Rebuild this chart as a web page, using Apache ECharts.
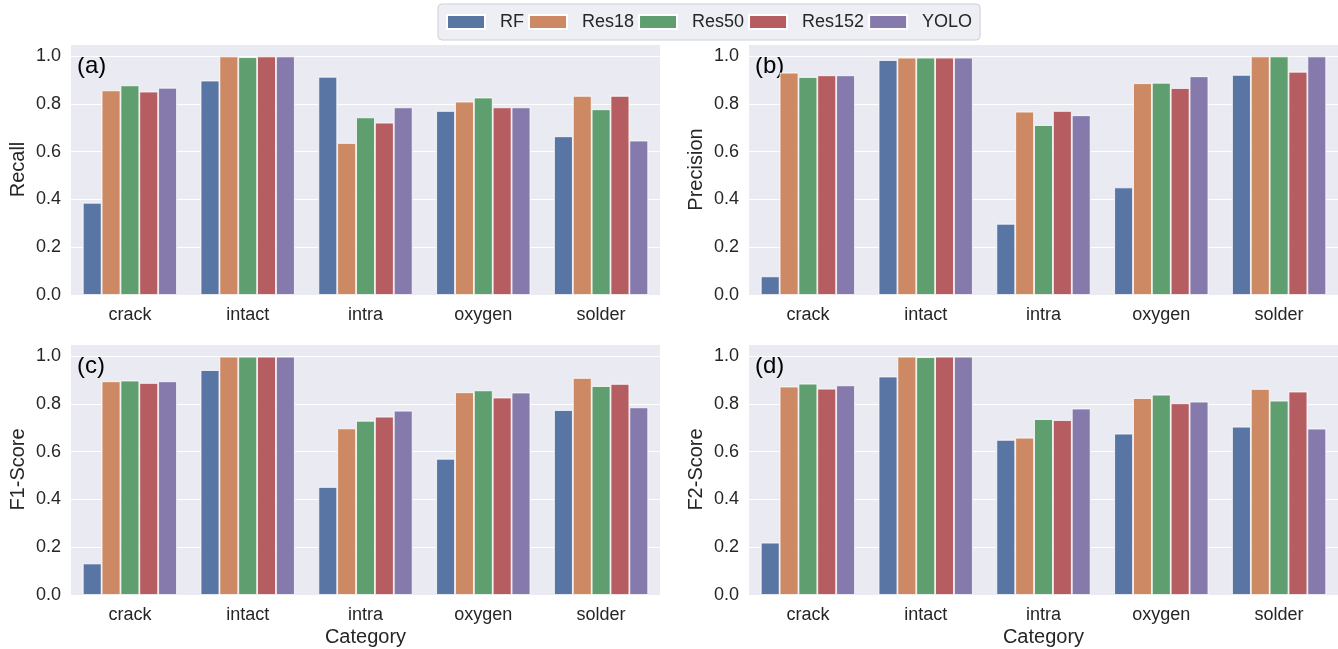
<!DOCTYPE html>
<html>
<head>
<meta charset="utf-8">
<script src="https://cdn.jsdelivr.net/npm/echarts@6/dist/echarts.min.js"></script>
<style>
html,body{margin:0;padding:0;background:#fff;}
#chart{width:1338px;height:649px;}
</style>
</head>
<body>
<div id="chart"></div>
<script>
const categories = ['crack', 'intact', 'intra', 'oxygen', 'solder'];
const models = ['RF', 'Res18', 'Res50', 'Res152', 'YOLO'];
const yTicks = [0, 0.2, 0.4, 0.6, 0.8, 1.0];

// Recall
const recallRF     = [0.386, 0.897, 0.913, 0.770, 0.664];
const recallRes18  = [0.856, 0.998, 0.636, 0.809, 0.833];
const recallRes50  = [0.877, 0.995, 0.743, 0.826, 0.777];
const recallRes152 = [0.851, 0.998, 0.721, 0.785, 0.833];
const recallYOLO   = [0.867, 0.998, 0.785, 0.785, 0.646];

// Precision
const precisionRF     = [0.078, 0.983, 0.298, 0.450, 0.921];
const precisionRes18  = [0.930, 0.993, 0.767, 0.886, 0.998];
const precisionRes50  = [0.912, 0.993, 0.711, 0.888, 0.998];
const precisionRes152 = [0.919, 0.993, 0.770, 0.866, 0.934];
const precisionYOLO   = [0.919, 0.993, 0.752, 0.915, 0.998];

// F1-Score
const f1RF     = [0.132, 0.941, 0.452, 0.570, 0.774];
const f1Res18  = [0.894, 0.997, 0.697, 0.848, 0.908];
const f1Res50  = [0.897, 0.997, 0.729, 0.856, 0.874];
const f1Res152 = [0.887, 0.997, 0.746, 0.826, 0.883];
const f1YOLO   = [0.894, 0.997, 0.771, 0.847, 0.785];

// F2-Score
const f2RF     = [0.219, 0.914, 0.649, 0.675, 0.704];
const f2Res18  = [0.872, 0.997, 0.658, 0.824, 0.862];
const f2Res50  = [0.884, 0.995, 0.736, 0.838, 0.813];
const f2Res152 = [0.863, 0.997, 0.732, 0.802, 0.851];
const f2YOLO   = [0.877, 0.997, 0.780, 0.809, 0.696];

const colors = ['#5875A4', '#CC8963', '#5F9E6E', '#B55D60', '#857AAB'];

const panels = [
  { label: '(a)', name: 'Recall',    data: [recallRF, recallRes18, recallRes50, recallRes152, recallYOLO], left: 71,  top: 44,  xname: '' },
  { label: '(b)', name: 'Precision', data: [precisionRF, precisionRes18, precisionRes50, precisionRes152, precisionYOLO], left: 749, top: 44,  xname: '' },
  { label: '(c)', name: 'F1-Score',  data: [f1RF, f1Res18, f1Res50, f1Res152, f1YOLO], left: 71,  top: 344, xname: 'Category' },
  { label: '(d)', name: 'F2-Score',  data: [f2RF, f2Res18, f2Res50, f2Res152, f2YOLO], left: 749, top: 344, xname: 'Category' }
];

const W = 589, H = 251;
const textColor = '#262626';
const font = '"Liberation Sans", Arial, sans-serif';

const grid = [], xAxis = [], yAxis = [], series = [], graphic = [];
panels.forEach((p, i) => {
  grid.push({ left: p.left, top: p.top, width: W, height: H, backgroundColor: '#EAEAF2', show: true, borderWidth: 0, containLabel: false });
  xAxis.push({
    type: 'category', gridIndex: i, data: categories,
    axisLine: { show: false }, axisTick: { show: false },
    axisLabel: { color: textColor, fontSize: 18, fontFamily: font, margin: 11 },
    name: p.xname, nameLocation: 'middle', nameGap: 32,
    nameTextStyle: { color: textColor, fontSize: 20, fontFamily: font }
  });
  yAxis.push({
    type: 'value', gridIndex: i, min: 0, max: 1.05, interval: 0.2,
    axisLine: { show: false }, axisTick: { show: false },
    splitLine: { lineStyle: { color: '#ffffff', width: 1.2 } },
    axisLabel: {
      color: textColor, fontSize: 18, fontFamily: font, margin: 10,
      formatter: v => yTicks.some(t => Math.abs(t - v) < 1e-6) ? v.toFixed(1) : ''
    },
    name: p.name, nameLocation: 'middle', nameGap: 43,
    nameTextStyle: { color: textColor, fontSize: 20, fontFamily: font }
  });
  p.data.forEach((arr, m) => {
    series.push({
      type: 'bar', name: models[m], xAxisIndex: i, yAxisIndex: i, data: arr,
      barGap: '0%', barCategoryGap: '20%',
      itemStyle: { color: colors[m], borderColor: '#ffffff', borderWidth: 0.8 },
      emphasis: { disabled: true }
    });
  });
  graphic.push({
    type: 'text', left: p.left + 6, top: p.top + 10,
    style: { text: p.label, fontSize: 24, fontFamily: font, fill: '#000' }
  });
});

const chart = echarts.init(document.getElementById('chart'), null, { renderer: 'canvas' });
chart.setOption({
  animation: false,
  backgroundColor: '#ffffff',
  color: colors,
  legend: {
    data: models, left: 438, top: 4,
    padding: [9, 8, 9, 8],
    itemWidth: 38, itemHeight: 14, itemGap: 4,
    icon: 'rect',
    backgroundColor: 'rgba(234,234,242,0.8)', borderColor: '#cfcfd6', borderWidth: 1, borderRadius: 4,
    textStyle: { color: textColor, fontSize: 18, fontFamily: font, padding: [0, 0, 0, 10] }
  },
  grid, xAxis, yAxis, series, graphic
});
</script>
</body>
</html>
